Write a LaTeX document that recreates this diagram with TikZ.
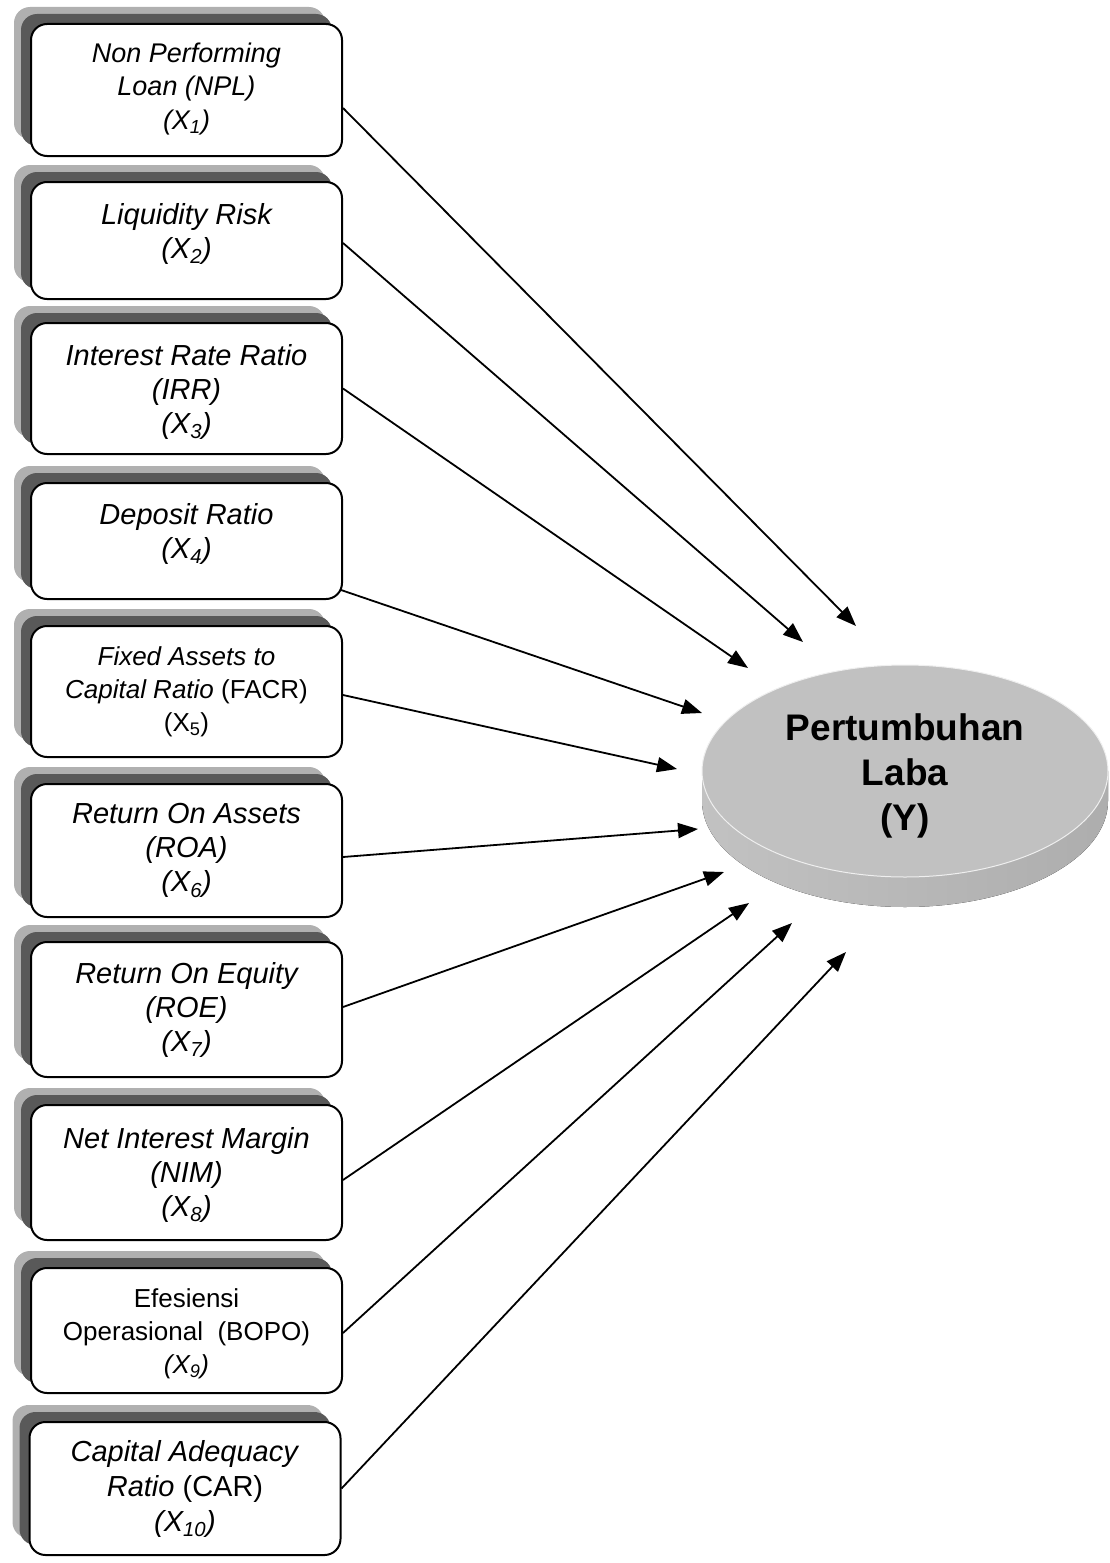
\documentclass[tikz,border=0pt]{standalone}
\usepackage{fontspec}
\setmainfont{Liberation Sans}
\usetikzlibrary{arrows.meta,shapes.geometric,shadows}
\definecolor{shlight}{gray}{0.69}
\definecolor{shdark}{gray}{0.35}
\definecolor{disctop}{gray}{0.755}
\begin{document}
\begin{tikzpicture}[x=1pt,y=-1pt,
  vbox/.style={draw=black, line width=2pt, fill=white, rounded corners=16pt,
    minimum width=311pt, inner sep=0pt,
    copy shadow={shadow xshift=-17pt, shadow yshift=17pt, fill=shlight, draw=none, opacity=1},
    copy shadow={shadow xshift=-10pt, shadow yshift=10pt, fill=shdark, draw=none, opacity=1}},
  vtxt/.style={align=center, inner sep=0pt, font=\fontsize{29}{34}\selectfont},
  vsmall/.style={align=center, inner sep=0pt, font=\fontsize{26}{33}\selectfont},
  arr/.style={line width=1.8pt, -{Triangle[length=20pt,width=15pt]}}
]
\useasboundingbox (0,0) rectangle (1110,1563);

% boxes
\node[vbox, minimum height=132pt] (b1) at (186.5,90) {};
\node[vbox, minimum height=117pt] (b2) at (186.5,240.5) {};
\node[vbox, minimum height=131pt] (b3) at (186.5,388.5) {};
\node[vbox, minimum height=116pt] (b4) at (186.5,541) {};
\node[vbox, minimum height=131pt] (b5) at (186.5,691.5) {};
\node[vbox, minimum height=133pt] (b6) at (186.5,850.5) {};
\node[vbox, minimum height=135pt] (b7) at (186.5,1009.5) {};
\node[vbox, minimum height=135pt] (b8) at (186.5,1172.5) {};
\node[vbox, minimum height=125pt] (b9) at (186.5,1330.5) {};
\node[vbox, minimum height=133pt] (b10) at (185,1488.5) {};

% texts
\node[vtxt, font=\fontsize{27}{33.5}\selectfont\itshape] (t1) at ([yshift=1pt]b1.center) {Non Performing\\Loan (NPL)\\(X\textsubscript{1})};
\node[vtxt, font=\fontsize{29}{34}\selectfont\itshape] (t2) at ([yshift=7pt]b2.center) {Liquidity Risk\\(X\textsubscript{2})};
\node[vtxt, font=\fontsize{29}{34}\selectfont\itshape] (t3) at ([yshift=-3pt]b3.center) {Interest Rate Ratio\\(IRR)\\(X\textsubscript{3})};
\node[vtxt, font=\fontsize{29}{34}\selectfont\itshape] (t4) at ([yshift=7pt]b4.center) {Deposit Ratio\\(X\textsubscript{4})};
\node[vsmall] (t5) at (b5.center) {\textit{Fixed Assets to}\\\textit{Capital Ratio} (FACR)\\(X\textsubscript{5})};
\node[vtxt, font=\fontsize{29}{34}\selectfont\itshape] (t6) at (b6.center) {Return On Assets\\(ROA)\\(X\textsubscript{6})};
\node[vtxt, font=\fontsize{29}{34}\selectfont\itshape] (t7) at (b7.center) {Return On Equity\\(ROE)\\(X\textsubscript{7})};
\node[vtxt, font=\fontsize{29}{34}\selectfont\itshape] (t8) at ([yshift=-2pt]b8.center) {Net Interest Margin\\(NIM)\\(X\textsubscript{8})};
\node[vsmall] (t9) at ([yshift=-3pt]b9.center) {Efesiensi\\Operasional\ \ (BOPO)\\\textit{(X\textsubscript{9})}};
\node[vtxt, font=\fontsize{29}{35}\selectfont] (t10) at (b10.center) {\textit{Capital Adequacy}\\\textit{Ratio} (CAR)\\\textit{(X\textsubscript{10})}};

% disc (dependent variable)
\fill[left color=black!24, middle color=black!42, right color=black!32]
  (702,771) -- (702,801) arc[start angle=180, delta angle=-180, x radius=203, y radius=106]
  -- (1108,771) arc[start angle=0, delta angle=180, x radius=203, y radius=106] -- cycle;
\node[ellipse, fill=disctop, draw=white!75!disctop, line width=1pt, minimum width=406pt,
  minimum height=212pt, inner sep=0pt] (disc) at (905,771) {};
\node[align=center, inner sep=0pt, font=\fontsize{37}{45}\selectfont\bfseries] (ylab)
  at (905,776) {Pertumbuhan\\Laba\\(Y)};

% arrow tips
\coordinate (e1) at (856,626);
\coordinate (e2) at (803,642);
\coordinate (e3) at (748,668);
\coordinate (e4) at (702,713);
\coordinate (e5) at (677,769);
\coordinate (e6) at (698,829);
\coordinate (e7) at (724,872);
\coordinate (e8) at (749,903);
\coordinate (e9) at (792,923);
\coordinate (e10) at (846,952);

\draw[arr] ([yshift=-18pt]b1.east) -- (e1);
\draw[arr] ([yshift=-2.5pt]b2.east) -- (e2);
\draw[arr] (b3.east) -- (e3);
\draw[arr] ([shift={(-2pt,-49pt)}]b4.east) -- (e4);
\draw[arr] ([yshift=-3.5pt]b5.east) -- (e5);
\draw[arr] ([yshift=-6.5pt]b6.east) -- (e6);
\draw[arr] ([yshift=2.5pt]b7.east) -- (e7);
\draw[arr] ([yshift=-7.5pt]b8.east) -- (e8);
\draw[arr] ([yshift=-2.5pt]b9.east) -- (e9);
\draw[arr] (b10.east) -- (e10);
\end{tikzpicture}
\end{document}
